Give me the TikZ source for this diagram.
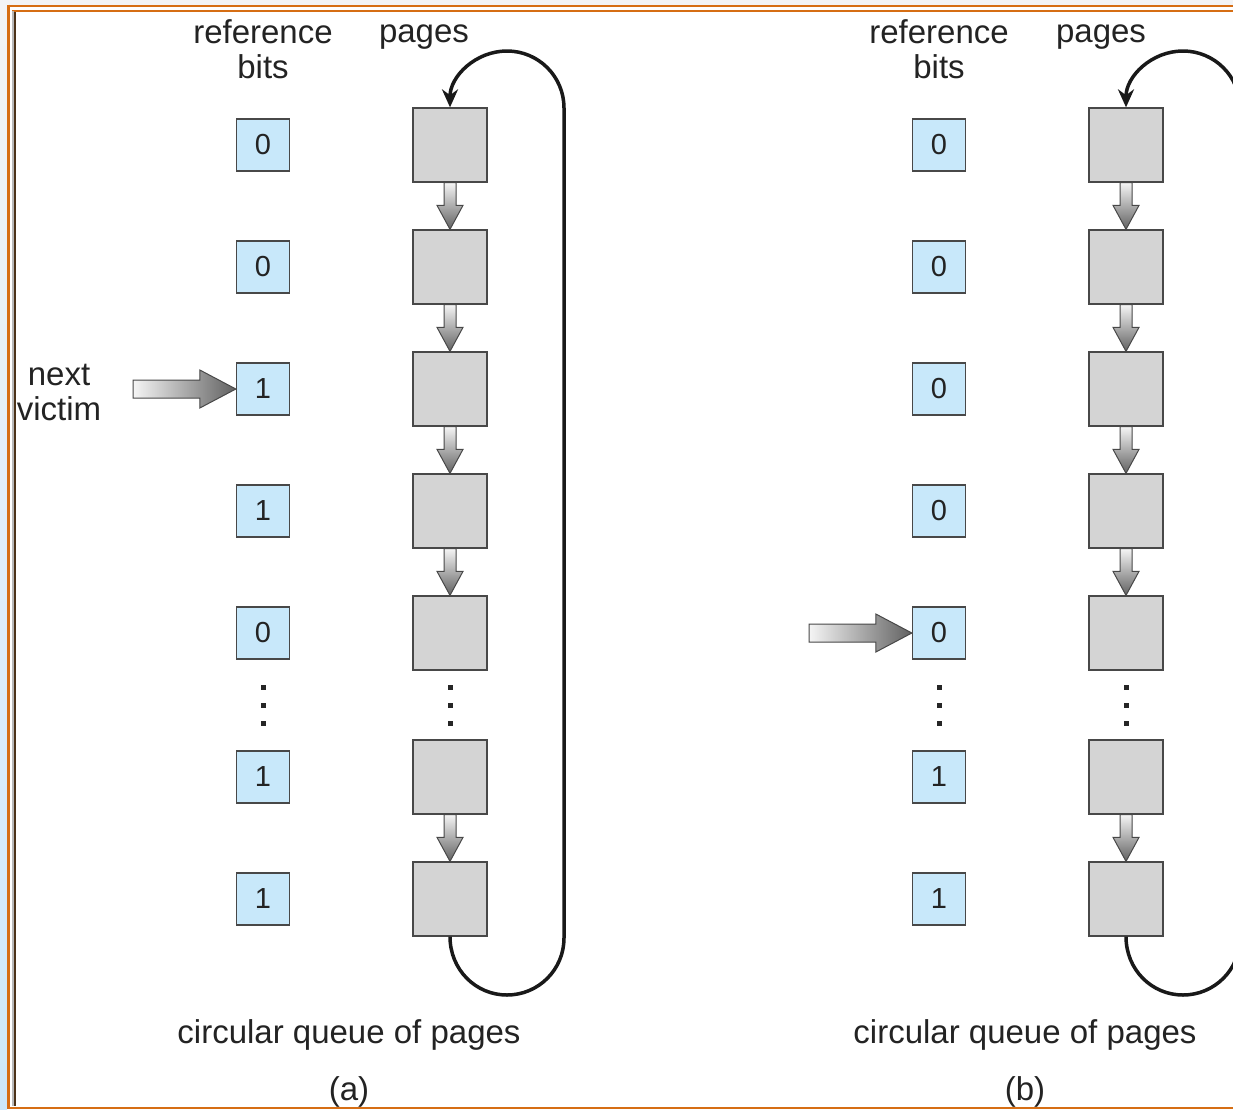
\documentclass[tikz,border=0pt]{standalone}
\usepackage{fontspec}
\setmainfont{Liberation Sans}
\usetikzlibrary{arrows.meta,calc}
\definecolor{bitfill}{RGB}{200,232,250}
\definecolor{pagefill}{RGB}{212,212,212}
\definecolor{edge}{RGB}{72,72,72}
\definecolor{frameor}{RGB}{214,110,20}
\definecolor{txt}{RGB}{35,35,35}
\definecolor{bgout}{RGB}{243,244,246}
\definecolor{bgblue}{RGB}{205,232,250}
\newcommand\fatdownarrow[2]{%
  \draw[fatdown] ($(#1.south)+(-6,0)$) -- ($(#2.north)+(-6,-24)$) -- ($(#2.north)+(-13,-24)$) -- (#2.north)
   -- ($(#2.north)+(13,-24)$) -- ($(#2.north)+(6,-24)$) -- ($(#1.south)+(6,0)$) -- cycle;}
\newcommand\fatrightarrow[2]{%
  \draw[fatright] ($(#1)+(0,-9)$) -- ($(#2.west)+(-36,-9)$) -- ($(#2.west)+(-36,-19)$) -- (#2.west)
   -- ($(#2.west)+(-36,19)$) -- ($(#2.west)+(-36,9)$) -- ($(#1)+(0,9)$) -- cycle;}
\begin{document}
\begin{tikzpicture}[x=1pt,y=-1pt,
 bitbox/.style={draw=edge, line width=1.3pt, fill=bitfill, minimum width=53pt, minimum height=52pt, inner sep=0pt, font=\fontsize{29}{31}\selectfont, text=txt},
 pagebox/.style={draw=edge, line width=1.3pt, fill=pagefill, minimum width=74pt, minimum height=74pt, inner sep=0pt},
 lbl/.style={font=\fontsize{33}{35}\selectfont, text=txt, align=center, inner sep=0pt},
 looppath/.style={line width=3.5pt, black!90, -{Stealth[length=18pt,width=16pt]}},
 fatdown/.style={draw=edge, line width=1pt, top color=white!92!gray, bottom color=black!62},
 fatright/.style={draw=edge, line width=1pt, left color=white!92!gray, right color=black!62},
 dot/.style={fill=black!85},
]
\useasboundingbox (0,0) rectangle (1233,1109);
% frame
\fill[bgout] (0,0) rectangle (1233,1109);
\shade[top color=bgout, bottom color=bgblue] (0,0) rectangle (7,1109);
\fill[white] (8,5) rectangle (1233,1109);
\draw[frameor, line width=2.2pt] (7,5.6) -- (1233,5.6);
\draw[frameor, line width=2pt] (12,11) -- (1233,11);
\draw[frameor, line width=3pt] (8.5,4.5) -- (8.5,1109);
\draw[gray!55, line width=2pt] (13,11) -- (13,1106);
\draw[brown!40!black, line width=1.8pt] (15,12) -- (15,1106);
\draw[frameor, line width=2.4pt] (8,1107.8) -- (1233,1107.8);

% ---------- panel (a)
\node[lbl] (rba) at (263,49) {reference\\bits};
\node[lbl, anchor=base] (pga) at (424,42) {pages};
\node[bitbox] (a1) at (263,145) {0};
\node[bitbox] (a2) at (263,267) {0};
\node[bitbox] (a3) at (263,389) {1};
\node[bitbox] (a4) at (263,511) {1};
\node[bitbox] (a5) at (263,633) {0};
\node[bitbox] (a6) at (263,777) {1};
\node[bitbox] (a7) at (263,899) {1};
\foreach \n/\y in {1/145,2/267,3/389,4/511,5/633,6/777,7/899}
  \node[pagebox] (pa\n) at (450,\y) {};
\foreach \y in {687,705,723} {
  \fill[dot] (260.5,\y-2.5) rectangle (265.5,\y+2.5);
  \fill[dot] (447.5,\y-2.5) rectangle (452.5,\y+2.5);
}
\fatdownarrow{pa1}{pa2}
\fatdownarrow{pa2}{pa3}
\fatdownarrow{pa3}{pa4}
\fatdownarrow{pa4}{pa5}
\fatdownarrow{pa6}{pa7}
\draw[looppath] (pa7.south) .. controls (450,969.5) and (475.5,995) .. (507,995)
  .. controls (538.5,995) and (564,969.5) .. (564,938) -- (564,108)
  .. controls (564,76.5) and (538.5,51) .. (507,51)
  .. controls (475.5,51) and (450,76.5) .. (pa1.north);
\node[lbl] (nv) at (59,392) {next\\victim};
\coordinate (nvs) at (133,389);
\fatrightarrow{nvs}{a3}
\node[lbl, anchor=base] (cqa) at (349,1043) {circular queue of pages};
\node[lbl, anchor=base] (lba) at (349,1100) {(a)};

% ---------- panel (b)
\node[lbl] (rbb) at (939,49) {reference\\bits};
\node[lbl, anchor=base] (pgb) at (1101,42) {pages};
\node[bitbox] (b1) at (939,145) {0};
\node[bitbox] (b2) at (939,267) {0};
\node[bitbox] (b3) at (939,389) {0};
\node[bitbox] (b4) at (939,511) {0};
\node[bitbox] (b5) at (939,633) {0};
\node[bitbox] (b6) at (939,777) {1};
\node[bitbox] (b7) at (939,899) {1};
\foreach \n/\y in {1/145,2/267,3/389,4/511,5/633,6/777,7/899}
  \node[pagebox] (pb\n) at (1126,\y) {};
\foreach \y in {687,705,723} {
  \fill[dot] (936.5,\y-2.5) rectangle (941.5,\y+2.5);
  \fill[dot] (1123.5,\y-2.5) rectangle (1128.5,\y+2.5);
}
\fatdownarrow{pb1}{pb2}
\fatdownarrow{pb2}{pb3}
\fatdownarrow{pb3}{pb4}
\fatdownarrow{pb4}{pb5}
\fatdownarrow{pb6}{pb7}
\draw[looppath] (pb7.south) .. controls (1126,969.5) and (1151.5,995) .. (1183,995)
  .. controls (1214.5,995) and (1240,969.5) .. (1240,938) -- (1240,108)
  .. controls (1240,76.5) and (1214.5,51) .. (1183,51)
  .. controls (1151.5,51) and (1126,76.5) .. (pb1.north);
\coordinate (nvb) at (809,633);
\fatrightarrow{nvb}{b5}
\node[lbl, anchor=base] (cqb) at (1025,1043) {circular queue of pages};
\node[lbl, anchor=base] (lbb) at (1025,1100) {(b)};
\end{tikzpicture}
\end{document}
